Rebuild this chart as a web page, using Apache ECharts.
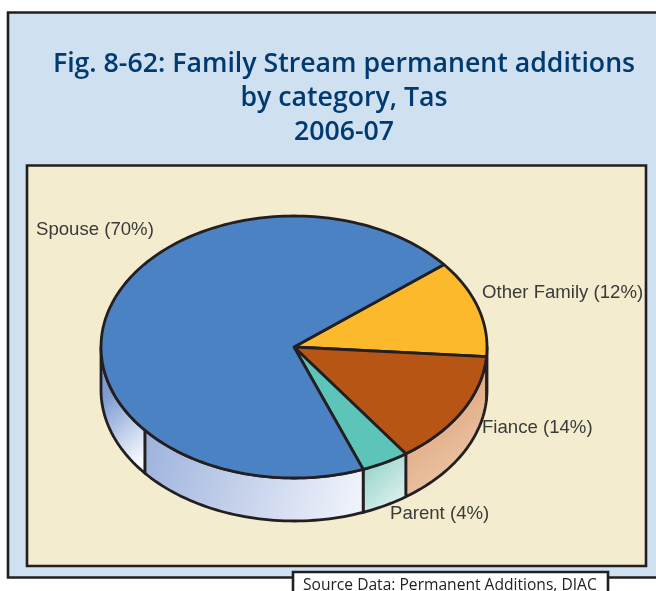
<!DOCTYPE html>
<html>
<head>
<meta charset="utf-8">
<style>html,body{margin:0;padding:0;background:#fff}#c{width:656px;height:591px}</style>
<script src="https://cdn.jsdelivr.net/npm/echarts@6/dist/echarts.min.js"></script>
</head>
<body>
<div id="c"></div>
<script>
const titleLines = ['Fig. 8-62: Family Stream permanent additions', 'by category, Tas', '2006-07'];
const sourceText = 'Source Data: Permanent Additions, DIAC';
const categories = ['Other Family', 'Fiance', 'Parent', 'Spouse'];
const values = [12, 14, 4, 70];

const topColors = ['#fdb92c', '#b75614', '#5cc4b8', '#4a82c3'];
const wallColors = [['#d9a040', '#f3d38d'], ['#d8976a', '#eecbae'], ['#8ed0c8', '#e4f4f0'], ['#9db2dc', '#f3f5fc']];
const seamWallColors = ['#7f9cd2', '#f7f9fe'];
const labelAnchors = [[482, 293], [482, 428], [390, 514], [36, 230]];

const CX = 294, CY = 347, RX = 193, RY = 131, DEPTH = 43;
const START_DEG = -39, SEAM_DEG = 140.6;
const INK = '#231f20';

const px = a => CX + RX * Math.cos(a * Math.PI / 180);
const py = (a, d) => CY + d + RY * Math.sin(a * Math.PI / 180);
function arc(a0, a1, d) {
  const n = Math.max(2, Math.ceil(Math.abs(a1 - a0) / 1.5));
  const out = [];
  for (let i = 0; i <= n; i++) {
    const a = a0 + (a1 - a0) * i / n;
    out.push([px(a), py(a, d)]);
  }
  return out;
}
function wallPiece(a0, a1, stops, y0) {
  return {
    type: 'polygon', z2: 1,
    shape: { points: arc(a0, a1, 0).concat(arc(a1, a0, DEPTH)) },
    style: {
      fill: { type: 'linear', x: 0, y: y0, x2: 1, y2: 0.85, colorStops: [{ offset: 0, color: stops[0] }, { offset: 1, color: stops[1] }] },
      stroke: INK, lineWidth: 2.8, lineJoin: 'round'
    }
  };
}
const total = values.reduce((s, v) => s + v, 0);
function renderSlice(params, api) {
  const i = params.dataIndex;
  let before = 0;
  for (let k = 0; k < i; k++) before += values[k];
  const a0 = START_DEG + before / total * 360;
  const a1 = a0 + api.value(0) / total * 360;
  const children = [];
  const w0 = Math.max(a0, 0), w1 = Math.min(a1, 180);
  if (w1 > w0) {
    if (SEAM_DEG > w0 && SEAM_DEG < w1) {
      children.push(wallPiece(w0, SEAM_DEG, wallColors[i], 0.1));
      children.push(wallPiece(SEAM_DEG, w1, seamWallColors, 0.45));
    } else {
      children.push(wallPiece(w0, w1, wallColors[i], 0.1));
    }
  }
  children.push({
    type: 'polygon', z2: 2,
    shape: { points: [[CX, CY]].concat(arc(a0, a1, 0)) },
    style: { fill: topColors[i], stroke: INK, lineWidth: 2.8, lineJoin: 'round' }
  });
  return { type: 'group', children };
}
const labels = categories.map((c, i) => ({
  type: 'text', x: labelAnchors[i][0], y: labelAnchors[i][1], z: 20,
  style: { text: c + ' (' + values[i] + '%)', fill: '#3a3a3a', font: '18.6px "Liberation Sans"', verticalAlign: 'middle' }
}));
const chart = echarts.init(document.getElementById('c'), null, { renderer: 'canvas', width: 656, height: 591 });
chart.setOption({
  animation: false,
  backgroundColor: '#ffffff',
  title: {
    text: titleLines.join('\n'), left: 339, top: 42, textAlign: 'center',
    textStyle: { fontFamily: 'Open Sans', fontWeight: 600, fontSize: 26.7, lineHeight: 34, color: '#003a70' }
  },
  graphic: [
    { type: 'rect', z: 0, shape: { x: 8, y: 12.5, width: 660, height: 565 }, style: { fill: '#cfe0f1', stroke: INK, lineWidth: 2.6 } },
    { type: 'rect', z: 1, shape: { x: 27, y: 165.5, width: 619, height: 400.5 }, style: { fill: '#f3ecce', stroke: INK, lineWidth: 2.6 } },
    { type: 'rect', z: 1, shape: { x: 293, y: 572, width: 315, height: 30 }, style: { fill: '#ffffff', stroke: INK, lineWidth: 2.6 } },
    { type: 'text', x: 303, y: 578, z: 20, style: { text: sourceText, fill: '#222222', font: '15.6px "Open Sans"' } }
  ].concat(labels),
  series: [{
    type: 'custom', coordinateSystem: 'none', z: 5, clip: false,
    renderItem: renderSlice,
    data: categories.map((c, i) => ({ name: c, value: [values[i]] }))
  }]
});
</script>
</body>
</html>
